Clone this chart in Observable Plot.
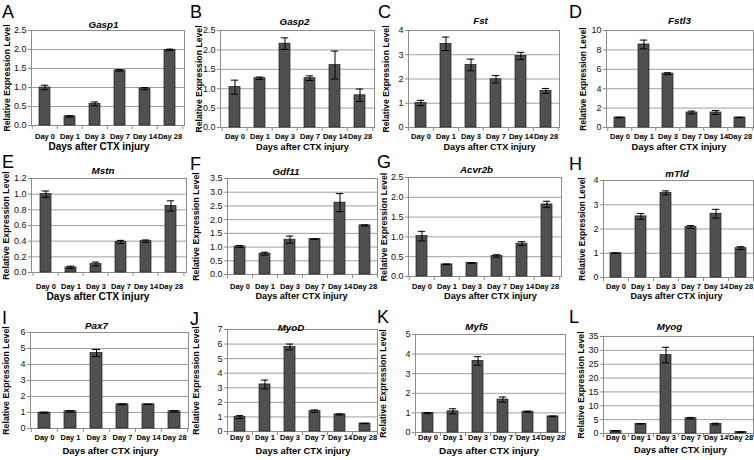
<!DOCTYPE html>
<html><head><meta charset="utf-8">
<script src="https://cdn.jsdelivr.net/npm/d3@7"></script>
<script src="https://cdn.jsdelivr.net/npm/@observablehq/plot@0.6"></script>
<style>
body{margin:0;background:#fff;}
#root{position:relative;width:754px;height:460px;overflow:hidden;font-family:Arial,"Liberation Sans",sans-serif;background:#fff;}
.panel{position:absolute;}
.panel svg{overflow:visible;}
.letter{position:absolute;font-size:18px;line-height:1;color:#000;}
</style></head><body><div id="root"></div>
<script>
// ---- data ----
const days = ["Day 0","Day 1","Day 3","Day 7","Day 14","Day 28"];
const genes = ["Gasp1","Gasp2","Fst","Fstl3","Mstn","Gdf11","Acvr2b","mTld","Pax7","MyoD","Myf5","Myog"];
const letters = ["A","B","C","D","E","F","G","H","I","J","K","L"];
const xTitle = "Days after CTX injury";
const yTitle = "Relative Expression Level";

const gasp1 = [1.00, 0.24, 0.57, 1.45, 0.97, 1.99];
const gasp1Err = [0.06, 0.02, 0.05, 0.02, 0.03, 0.02];
const gasp2 = [1.04, 1.27, 2.16, 1.27, 1.61, 0.83];
const gasp2Err = [0.18, 0.03, 0.15, 0.06, 0.36, 0.16];
const fst = [1.01, 3.45, 2.58, 1.99, 2.95, 1.51];
const fstErr = [0.11, 0.28, 0.24, 0.15, 0.15, 0.10];
const fstl3 = [1.03, 8.56, 5.55, 1.54, 1.55, 1.03];
const fstl3Err = [0.03, 0.45, 0.10, 0.15, 0.20, 0.02];
const mstn = [1.00, 0.065, 0.108, 0.39, 0.40, 0.85];
const mstnErr = [0.04, 0.015, 0.025, 0.02, 0.015, 0.065];
const gdf11 = [1.02, 0.76, 1.27, 1.29, 2.62, 1.79];
const gdf11Err = [0.04, 0.05, 0.13, 0.01, 0.33, 0.02];
const acvr2b = [1.02, 0.305, 0.34, 0.52, 0.83, 1.82];
const acvr2bErr = [0.12, 0.01, 0.01, 0.03, 0.05, 0.08];
const mtld = [1.00, 2.52, 3.49, 2.08, 2.63, 1.21];
const mtldErr = [0.01, 0.12, 0.08, 0.06, 0.18, 0.06];
const pax7 = [0.99, 1.07, 4.72, 1.51, 1.51, 1.07];
const pax7Err = [0.03, 0.05, 0.22, 0.03, 0.01, 0.05];
const myod = [0.99, 3.23, 5.80, 1.40, 1.17, 0.55];
const myodErr = [0.10, 0.30, 0.20, 0.08, 0.04, 0.01];
const myf5 = [0.99, 1.08, 3.65, 1.68, 1.06, 0.82];
const myf5Err = [0.03, 0.13, 0.22, 0.13, 0.03, 0.02];
const myog = [0.96, 3.50, 28.3, 5.50, 3.40, 0.50];
const myogErr = [0.10, 0.10, 2.80, 0.30, 0.30, 0.10];

const values = [gasp1, gasp2, fst, fstl3, mstn, gdf11, acvr2b, mtld, pax7, myod, myf5, myog];
const errors = [gasp1Err, gasp2Err, fstErr, fstl3Err, mstnErr, gdf11Err, acvr2bErr, mtldErr, pax7Err, myodErr, myf5Err, myogErr];
const yMaxes = [2.5, 2.5, 4, 10, 1.2, 3.5, 2.5, 4, 6, 7, 5, 35];
const yTickSteps = [0.5, 0.5, 1, 2, 0.2, 0.5, 0.5, 1, 1, 1, 1, 5];
const yTickDigits = [1, 1, 0, 0, 1, 1, 1, 0, 0, 0, 0, 0];

// ---- layout (absolute page pixels) ----
const colX = [0, 188, 376, 564], colW = [188, 188, 188, 190];
const rowY = [0, 150, 300], rowH = [150, 150, 160];
// plot frames [left, right, top, bottom]
const frames = [
  [31,184,30,125],[220,374,30,127],[408,559,30,127],[606,753,30,127],
  [31,186,178,272],[227,377,178,274],[408,561,177,276],[603,753,180,277],
  [30,188,332,428],[227,377,329,431],[415,565,334,432],[603,753,336,433]
];
const titlePos = [[103,24],[294,21.5],[480,20],[679,20],[102.5,170],[285.5,171],[476,169.5],[676.5,173],[96,325],[290.5,327],[476,326.5],[669,326.5]];
const yTitleX = [6.5,199,386,583,6,196,383.5,581.5,6,195.5,383,581];
const yTitleSize = [8.7,8.7,8.7,8.4,8.8,8.8,8.8,8.4,8.8,8.8,8.8,8.7];
const xTitleX = [98.5,302,489,678.5,97.5,301,490,676,110,302.5,488.5,680];
const xTitleSize = [10,9.2,9.1,9.4,10.2,9.1,9.2,9.1,9.5,9.4,9.9,9.2];
const dayLabelY = [136, 286.5, 437.5];
const xTitleY = [146.5, 296, 450];
const letterPos = [[2,5],[190,5],[378,5],[569,5],[2,155],[190,157],[377,155],[569,157],[2,311],[190,312],[377,310],[569,310]];

const root = document.getElementById("root");
const FONT = "Arial, 'Liberation Sans', sans-serif";

genes.forEach((gene, i) => {
  const col = i % 4, row = Math.floor(i / 4);
  const ox = colX[col], oy = rowY[row], pw = colW[col], ph = rowH[row];
  const [L, R, T, B] = frames[i];
  const yMax = yMaxes[i], stepY = yTickSteps[i];
  const data = days.map((d, j) => ({day: d, v: values[i][j], e: errors[i][j]}));
  const ticks = d3.range(0, yMax + stepY / 2, stepY);
  const bandStep = (R - L) / days.length;
  const tickLen = 4 * yMax / (B - T);

  const plot = Plot.plot({
    width: pw, height: ph,
    marginLeft: L - ox, marginRight: ox + pw - R, marginTop: T - oy, marginBottom: oy + ph - B,
    style: {fontFamily: FONT, fontSize: "9px", background: "transparent", overflow: "visible", color: "#000"},
    x: {domain: days, paddingInner: 0.55, paddingOuter: 0.275, axis: null},
    y: {domain: [0, yMax], axis: null},
    marks: [
      Plot.gridY(ticks, {stroke: "#a0a0a0", strokeOpacity: 1}),
      Plot.frame({stroke: "#8c8c8c"}),
      Plot.axisY(ticks, {tickSize: 3, tickPadding: 2, stroke: "#8c8c8c", fill: "#111", label: null,
        tickFormat: d => d.toFixed(yTickDigits[i])}),
      Plot.ruleX(days, {x: d => d, dx: -bandStep / 2, y1: 0, y2: -tickLen, stroke: "#8c8c8c"}),
      Plot.ruleX([days[days.length - 1]], {x: d => d, dx: bandStep / 2, y1: 0, y2: -tickLen, stroke: "#8c8c8c"}),
      Plot.barY(data, {x: "day", y: "v", fill: "#505050", stroke: "#1a1a1a", strokeWidth: 0.7}),
      Plot.ruleX(data, {x: "day", y1: d => d.v - d.e, y2: d => d.v + d.e, stroke: "#000", strokeWidth: 1}),
      Plot.tickY(data, {x: "day", y: d => d.v + d.e, insetLeft: 1.8, insetRight: 1.8, stroke: "#000", strokeWidth: 1}),
      Plot.tickY(data, {x: "day", y: d => d.v - d.e, insetLeft: 1.8, insetRight: 1.8, stroke: "#000", strokeWidth: 1}),
      Plot.text(days, {x: d => d, text: d => d, frameAnchor: "bottom", dy: dayLabelY[row] - B,
        fontWeight: "bold", fontSize: 7.5, lineAnchor: "middle", fill: "#000"}),
      Plot.text([gene], {text: d => d, frameAnchor: "top-left", dx: titlePos[i][0] - L, dy: titlePos[i][1] - T,
        fontWeight: "bold", fontStyle: "italic", fontSize: 9.8, textAnchor: "middle", lineAnchor: "middle", fill: "#000"}),
      Plot.text([xTitle], {text: d => d, frameAnchor: "top-left", dx: xTitleX[i] - L, dy: xTitleY[row] - T,
        fontWeight: "bold", fontSize: xTitleSize[i], textAnchor: "middle", lineAnchor: "middle", fill: "#000"}),
      Plot.text([yTitle], {text: d => d, frameAnchor: "left", dx: yTitleX[i] - L, dy: 0,
        rotate: -90, fontWeight: "bold", fontSize: yTitleSize[i], textAnchor: "middle", lineAnchor: "middle", fill: "#000"})
    ]
  });
  const wrap = document.createElement("div");
  wrap.className = "panel";
  wrap.style.left = ox + "px";
  wrap.style.top = oy + "px";
  wrap.appendChild(plot);
  root.appendChild(wrap);

  const lt = document.createElement("div");
  lt.className = "letter";
  lt.textContent = letters[i];
  lt.style.left = letterPos[i][0] + "px";
  lt.style.top = (letterPos[i][1] - 2.3) + "px";
  root.appendChild(lt);
});
</script>
</body></html>
